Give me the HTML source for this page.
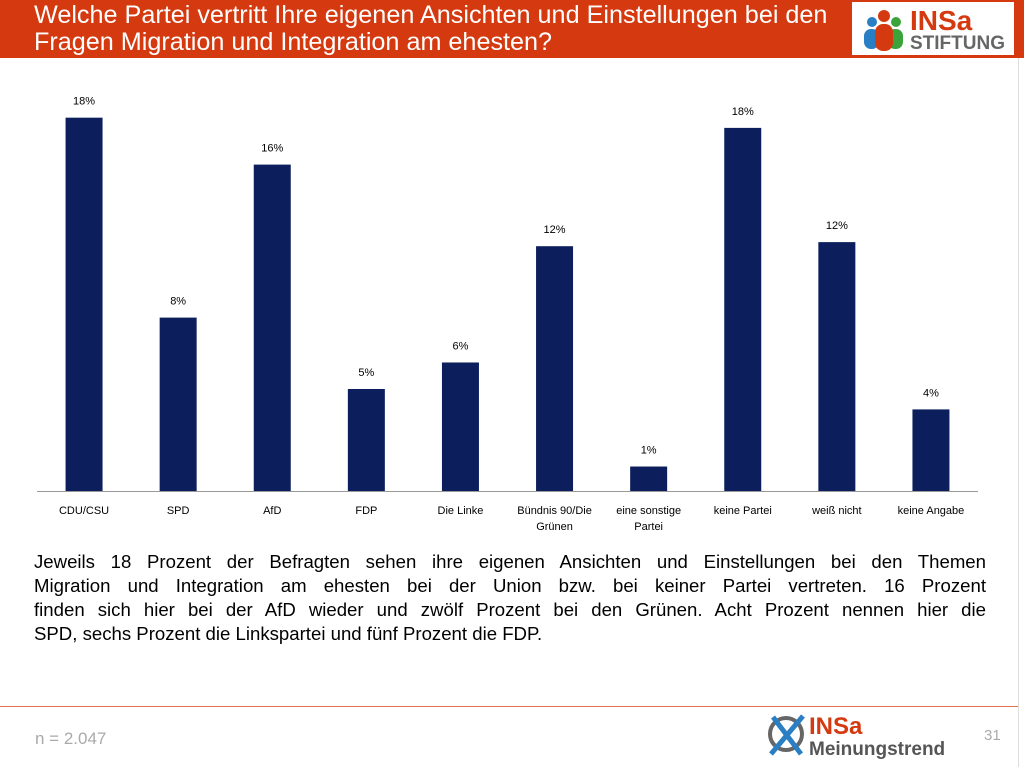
<!DOCTYPE html>
<html><head><meta charset="utf-8"><style>
body{margin:0;width:1024px;height:767px;background:#fff;position:relative;overflow:hidden;font-family:"Liberation Sans",sans-serif}
.hdr{position:absolute;left:0;top:0;width:1024px;height:58px;background:#d4390f}
.title{position:absolute;left:34px;top:2px;color:#fff;font-size:25.2px;line-height:27px;white-space:nowrap}
.logo{position:absolute;left:852px;top:2px;width:162px;height:53px;background:#fff}
.body{position:absolute;left:34px;top:550px;width:952px;font-size:18.6px;line-height:24px;color:#000}
.body span{display:block;white-space:nowrap;text-align:justify;text-align-last:justify}
.body span.last{text-align-last:left}
</style></head><body>
<div class="hdr"></div>
<div class="title">Welche Partei vertritt Ihre eigenen Ansichten und Einstellungen bei den<br>Fragen Migration und Integration am ehesten?</div>
<div class="logo">
<svg width="162" height="53">
<circle cx="20" cy="20" r="5" fill="#2a7fc4"/><rect x="12" y="27" width="15" height="20" rx="7" fill="#2a7fc4"/>
<circle cx="44" cy="20" r="5" fill="#3aa43a"/><rect x="36" y="27" width="15" height="20" rx="7" fill="#3aa43a"/>
<circle cx="32" cy="14" r="6" fill="#d4390f"/><rect x="23" y="22" width="18" height="27" rx="8" fill="#d4390f"/>
<text x="58" y="28" font-family="Liberation Sans" font-weight="bold" font-size="28" fill="#d4390f">INSa</text>
<text x="58" y="47" font-family="Liberation Sans" font-weight="bold" font-size="19" fill="#666">STIFTUNG</text>
</svg></div>
<svg id="chart" width="1024" height="540" style="position:absolute;left:0;top:0"></svg>
<div class="body"><span>Jeweils 18 Prozent der Befragten sehen ihre eigenen Ansichten und Einstellungen bei den Themen</span><span>Migration und Integration am ehesten bei der Union bzw. bei keiner Partei vertreten. 16 Prozent</span><span>finden sich hier bei der AfD wieder und zwölf Prozent bei den Grünen. Acht Prozent nennen hier die</span><span class="last">SPD, sechs Prozent die Linkspartei und fünf Prozent die FDP.</span></div>
<div style="position:absolute;left:0;top:706px;width:1018px;height:1px;background:#e07050"></div>
<div style="position:absolute;left:1018px;top:58px;width:1px;height:709px;background:#ddd"></div>
<div style="position:absolute;left:35px;top:729px;font-size:17px;color:#aaa">n = 2.047</div>
<div style="position:absolute;left:984px;top:727px;font-size:15px;color:#aaa">31</div>
<svg style="position:absolute;left:765px;top:712px" width="205" height="50">
<circle cx="21" cy="22" r="16" fill="none" stroke="#666" stroke-width="4"/>
<line x1="8" y1="5" x2="36" y2="42" stroke="#2a7fc4" stroke-width="5"/><line x1="38" y1="4" x2="6" y2="42" stroke="#2a7fc4" stroke-width="5"/>
<text x="44" y="22" font-family="Liberation Sans" font-weight="bold" font-size="24" fill="#d4390f">INSa</text>
<text x="44" y="43" font-family="Liberation Sans" font-weight="bold" font-size="19" fill="#555">Meinungstrend</text>
</svg>
<script>
const categories=["CDU/CSU","SPD","AfD","FDP","Die Linke","Bündnis 90/Die Grünen","eine sonstige Partei","keine Partei","weiß nicht","keine Angabe"];
const catLines=[["CDU/CSU"],["SPD"],["AfD"],["FDP"],["Die Linke"],["Bündnis 90/Die","Grünen"],["eine sonstige","Partei"],["keine Partei"],["weiß nicht"],["keine Angabe"]];
const values=[18.3,8.5,16.0,5.0,6.3,12.0,1.2,17.8,12.2,4.0];
const labels=["18%","8%","16%","5%","6%","12%","1%","18%","12%","4%"];
const svg=document.getElementById('chart');const NS="http://www.w3.org/2000/svg";
const x0=37,x1=978,base=491,pxPer=20.4,bw=37;
const step=(x1-x0)/categories.length;
const xc=i=>x0+step*(i+0.5);const y=v=>base-v*pxPer;
function mk(t,a){const e=document.createElementNS(NS,t);for(const k in a)e.setAttribute(k,a[k]);svg.appendChild(e);return e;}
values.forEach((v,i)=>{
const r=mk('rect',{x:xc(i)-bw/2,y:y(v),width:bw,height:base-y(v),fill:'#0c1f5c'});


const t=mk('text',{x:xc(i),y:y(v)-13,'text-anchor':'middle','font-size':11,'font-family':'Liberation Sans'});t.textContent=labels[i];


catLines[i].forEach((ln,j)=>{const c=mk('text',{x:xc(i),y:514+j*16,'text-anchor':'middle','font-size':11,'font-family':'Liberation Sans'});c.textContent=ln;

});
});
const ax=mk('line',{x1:x0,x2:x1,y1:base+0.5,y2:base+0.5,stroke:'#999'});


</script>
</body></html>
